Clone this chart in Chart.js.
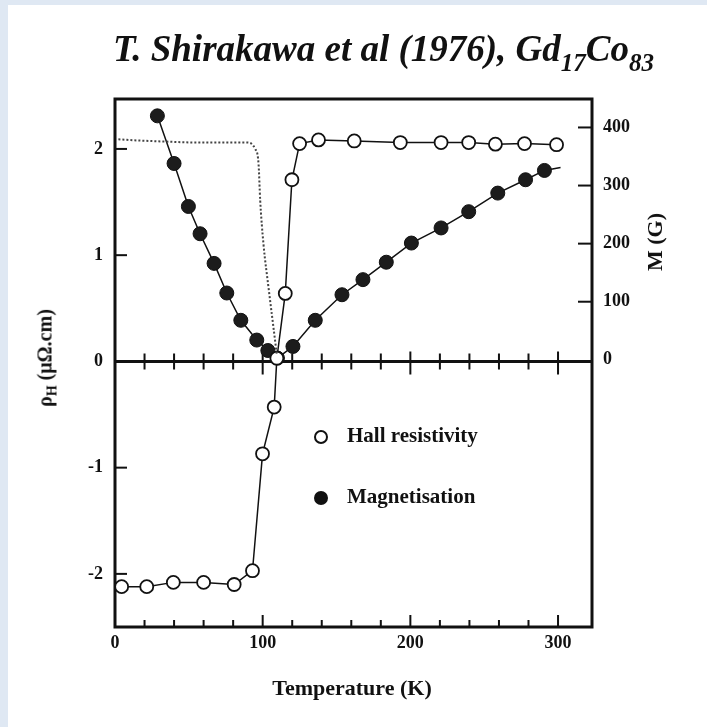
<!DOCTYPE html>
<html>
<head>
<meta charset="utf-8">
<script src="https://cdn.jsdelivr.net/npm/chart.js@4.4.1/dist/chart.umd.min.js"></script>
<style>
    html, body { margin: 0; padding: 0; }
    body { width: 707px; height: 727px; background: #dfe8f3; position: relative; overflow: hidden; }
    #panel { position: absolute; left: 8px; top: 5px; width: 699px; height: 722px; background: #fff; }
    #grafico { position: absolute; left: 0; top: 0; }
    .texto { position: absolute; font-family: "Liberation Serif", "DejaVu Serif", serif; font-weight: bold; color: #111; white-space: nowrap; }
    #titulo { left: 113px; top: 27px; font-size: 37px; font-style: italic; }
    #titulo sub { font-size: 25px; vertical-align: -10px; line-height: 0; }
    #tituloY { left: 45px; top: 358px; font-size: 20px; transform: translate(-50%, -50%) rotate(-90deg); }
    #tituloY sub { font-size: 14px; line-height: 0; }
    #tituloY2 { left: 655px; top: 242px; font-size: 22px; transform: translate(-50%, -50%) rotate(-90deg); }
    #tituloX { left: 352px; top: 688px; font-size: 22px; transform: translate(-50%, -50%); }
    .legenda { font-size: 21px; }
    .marca { position: absolute; width: 10px; height: 10px; border-radius: 50%; border: 2px solid #111; }
</style>
</head>
<body>
<div id="panel"></div>
<canvas id="grafico" width="707" height="727"></canvas>
<div class="texto" id="titulo">T. Shirakawa et al (1976), Gd<sub>17</sub>Co<sub>83</sub></div>
<div class="texto" id="tituloY">ρ<sub>H</sub> (μΩ.cm)</div>
<div class="texto" id="tituloY2">M (G)</div>
<div class="texto" id="tituloX">Temperature (K)</div>
<div class="marca" style="left:314px; top:430px; background:#fff;"></div>
<div class="texto legenda" style="left:347px; top:423px;">Hall resistivity</div>
<div class="marca" style="left:314px; top:491px; background:#111;"></div>
<div class="texto legenda" style="left:347px; top:484px;">Magnetisation</div>
<script>
// Hall resistivity (open circles), left axis
const hallTemp = [4.5, 21.5, 39.5, 60, 80.7, 93.1, 99.9, 107.8, 109.6, 115.3, 119.8, 125, 137.8, 162, 193.2, 220.8, 239.5, 257.6, 277.3, 299];
const hallRho = [-2.12, -2.12, -2.08, -2.08, -2.1, -1.97, -0.87, -0.43, 0.03, 0.64, 1.71, 2.05, 2.085, 2.075, 2.06, 2.06, 2.06, 2.045, 2.05, 2.04];

// Magnetisation (filled circles), right axis; the last entry is the line end with no marker
const magTemp = [28.7, 40, 49.7, 57.6, 67.1, 75.7, 85.2, 96, 103.5, 110, 120.5, 135.6, 153.7, 167.9, 183.7, 200.7, 220.8, 239.5, 259.2, 278, 290.8, 301.7];
const magM = [420, 338, 264, 217, 166, 115, 68, 34, 16, 3, 23, 68, 112, 138, 168, 201, 227, 255, 287, 310, 326, 331];

// dotted curve, left axis
const pontilhadoTemp = [2.3, 15, 32.8, 57.6, 89.3, 94.9, 97.2, 98.3, 100.5, 104, 107.3, 109.6];
const pontilhadoRho = [2.09, 2.08, 2.07, 2.06, 2.06, 2.0, 1.86, 1.52, 1.11, 0.69, 0.32, 0.06];

const ticksX = [0, 100, 200, 300];
const ticksY = [-2, -1, 0, 1, 2];
const ticksY2 = [0, 100, 200, 300, 400];

const fonteTicks = { family: '"Liberation Serif", "DejaVu Serif", serif', size: 18, weight: 'bold' };
const preto = '#111';

function juntar(listaX, listaY) {
    return listaX.map((valor, i) => ({ x: valor, y: listaY[i] }));
}

const eixosDesenho = {
    id: 'eixosDesenho',
    beforeDatasetsDraw(chart) {
        const { ctx, chartArea: area, scales } = chart;
        const { x, y, y2 } = scales;
        const zeroY = y.getPixelForValue(0);
        ctx.save();
        ctx.strokeStyle = preto;
        ctx.lineWidth = 3;
        ctx.strokeRect(area.left, area.top, area.right - area.left, area.bottom - area.top);
        ctx.beginPath();
        ctx.moveTo(area.left, zeroY);
        ctx.lineTo(area.right, zeroY);
        ctx.stroke();

        ctx.lineWidth = 2;
        for (let t = 20; t <= 300; t += 20) {
            const px = x.getPixelForValue(t);
            const maior = t % 100 === 0;
            ctx.beginPath();
            ctx.moveTo(px, area.bottom);
            ctx.lineTo(px, area.bottom - (maior ? 12 : 7));
            ctx.moveTo(px, zeroY - (maior ? 10 : 8));
            ctx.lineTo(px, zeroY + (maior ? 13 : 8));
            ctx.stroke();
        }
        ticksY.forEach((valor) => {
            const py = y.getPixelForValue(valor);
            ctx.beginPath();
            ctx.moveTo(area.left, py);
            ctx.lineTo(area.left + 12, py);
            ctx.stroke();
        });
        ticksY2.forEach((valor) => {
            if (valor === 0) return;
            const py = y2.getPixelForValue(valor);
            ctx.beginPath();
            ctx.moveTo(area.right, py);
            ctx.lineTo(area.right - 14, py);
            ctx.stroke();
        });
        ctx.restore();
    }
};

const contexto = document.getElementById('grafico').getContext('2d');

new Chart(contexto, {
    type: 'scatter',
    data: {
        datasets: [
            {
                label: 'dotted',
                data: juntar(pontilhadoTemp, pontilhadoRho),
                yAxisID: 'y',
                showLine: true,
                borderColor: '#444',
                borderWidth: 2,
                borderDash: [2, 2],
                cubicInterpolationMode: 'monotone',
                pointRadius: 0
            },
            {
                label: 'Hall resistivity',
                data: juntar(hallTemp, hallRho),
                yAxisID: 'y',
                showLine: true,
                borderColor: preto,
                borderWidth: 1.5,
                pointRadius: 6.5,
                pointBorderWidth: 1.8,
                pointBorderColor: preto,
                pointBackgroundColor: '#fff'
            },
            {
                label: 'Magnetisation',
                data: juntar(magTemp, magM),
                yAxisID: 'y2',
                showLine: true,
                borderColor: preto,
                borderWidth: 1.5,
                pointRadius: magTemp.map((v, i) => (i === magTemp.length - 1 ? 0 : 7)),
                pointBorderWidth: 1,
                pointBorderColor: preto,
                pointBackgroundColor: '#1c1c1c'
            }
        ]
    },
    options: {
        responsive: false,
        animation: false,
        layout: { padding: { top: 99, left: 0, right: 0, bottom: 0 } },
        plugins: {
            legend: { display: false },
            tooltip: { enabled: false }
        },
        scales: {
            x: {
                type: 'linear',
                min: 0,
                max: 323,
                afterBuildTicks: (eixo) => { eixo.ticks = ticksX.map((v) => ({ value: v })); },
                afterFit: (eixo) => { eixo.height = 100; },
                grid: { display: false, drawTicks: false },
                border: { display: false },
                ticks: { color: preto, font: fonteTicks, padding: 6, maxRotation: 0 }
            },
            y: {
                type: 'linear',
                position: 'left',
                min: -2.5,
                max: 2.47,
                afterBuildTicks: (eixo) => { eixo.ticks = ticksY.map((v) => ({ value: v })); },
                afterFit: (eixo) => { eixo.width = 115; },
                grid: { display: false, drawTicks: false },
                border: { display: false },
                ticks: { color: preto, font: fonteTicks, padding: 12 }
            },
            y2: {
                type: 'linear',
                position: 'right',
                min: -460,
                max: 449,
                afterBuildTicks: (eixo) => { eixo.ticks = ticksY2.map((v) => ({ value: v })); },
                afterFit: (eixo) => { eixo.width = 115; },
                grid: { display: false, drawTicks: false },
                border: { display: false },
                ticks: { color: preto, font: fonteTicks, padding: 11 }
            }
        }
    },
    plugins: [eixosDesenho]
});
</script>
</body>
</html>
